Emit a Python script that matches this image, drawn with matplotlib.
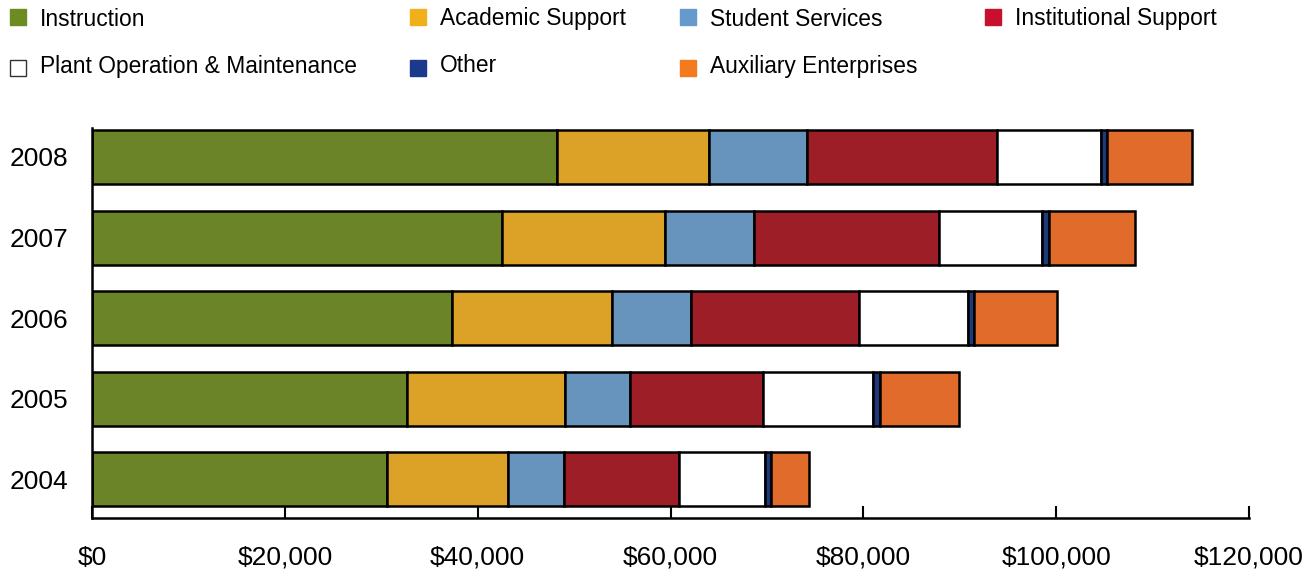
import matplotlib
matplotlib.use('Agg')
import matplotlib.pyplot as plt
from matplotlib.patches import Rectangle
from matplotlib.ticker import FuncFormatter
import numpy as np

plt.rcParams['font.family'] = ['Liberation Sans', 'DejaVu Sans']

# -------- Data (thousands of dollars)
years = ['2004', '2005', '2006', '2007', '2008']
categories = ['Instruction', 'Academic Support', 'Student Services', 'Institutional Support',
              'Plant Operation & Maintenance', 'Other', 'Auxiliary Enterprises']
instruction = [30.6, 32.7, 37.3, 42.5, 48.2]
academic_support = [12.5, 16.4, 16.6, 16.9, 15.8]
student_services = [5.8, 6.7, 8.2, 9.3, 10.2]
institutional_support = [12.0, 13.8, 17.5, 19.1, 19.7]
plant_operation = [8.9, 11.4, 11.3, 10.7, 10.8]
other = [0.6, 0.7, 0.6, 0.8, 0.6]
auxiliary = [4.0, 8.2, 8.6, 8.9, 8.8]

series = [instruction, academic_support, student_services, institutional_support,
          plant_operation, other, auxiliary]
bar_colors = ['#6b8428', '#dca228', '#6694bd', '#9e1e27', '#ffffff', '#1e3a7a', '#e06b2b']
legend_colors = ['#6c8c23', '#f0b01a', '#6699cc', '#c8102e', '#ffffff', '#1b3a8c', '#f47a20']

fig = plt.figure(figsize=(13.15, 5.79), dpi=100)
ax = fig.add_axes([0.070, 0.1054, 0.8798, 0.6736])

y = np.arange(len(years))
left = np.zeros(len(years))
for vals, col in zip(series, bar_colors):
    vals = np.array(vals) * 1000
    ax.barh(y, vals, left=left, height=0.67, color=col, edgecolor='black', linewidth=1.8)
    left += vals

ax.set_xlim(0, 120000)
ax.set_ylim(-0.48, 4.36)
ax.set_xticks(np.arange(0, 120001, 20000))
ax.xaxis.set_major_formatter(FuncFormatter(lambda v, p: f'${v:,.0f}'))
ax.set_yticks(y)
ax.set_yticklabels(years)

for s in ['top', 'right']:
    ax.spines[s].set_visible(False)
for s in ['left', 'bottom']:
    ax.spines[s].set_linewidth(1.8)
    ax.spines[s].set_color('black')

ax.tick_params(axis='x', direction='in', length=8.5, width=1.5, pad=20, labelsize=19)
ax.tick_params(axis='y', length=0, pad=17, labelsize=19)

# -------- Legend drawn by hand to keep the uneven column positions
# (x of square, y of text centre, y of square centre) in pixels from top-left
legend_pos = [(10, 19, 17), (410, 19, 17), (680, 19, 17), (985, 19, 17),
              (10, 66, 68), (410, 66, 68), (680, 66, 68)]
W, H = 1315.0, 579.0
box = 16
for (px, ty, sy), name, col in zip(legend_pos, categories, legend_colors):
    fig.patches.append(Rectangle((px / W, 1 - (sy + box / 2) / H), box / W, box / H,
                                 transform=fig.transFigure, facecolor=col,
                                 edgecolor='#333333' if col == '#ffffff' else col,
                                 linewidth=1))
    fig.text((px + 30) / W, 1 - ty / H, name, fontsize=16.4, va='center', ha='left')

fig.savefig('out.png', dpi=100)
